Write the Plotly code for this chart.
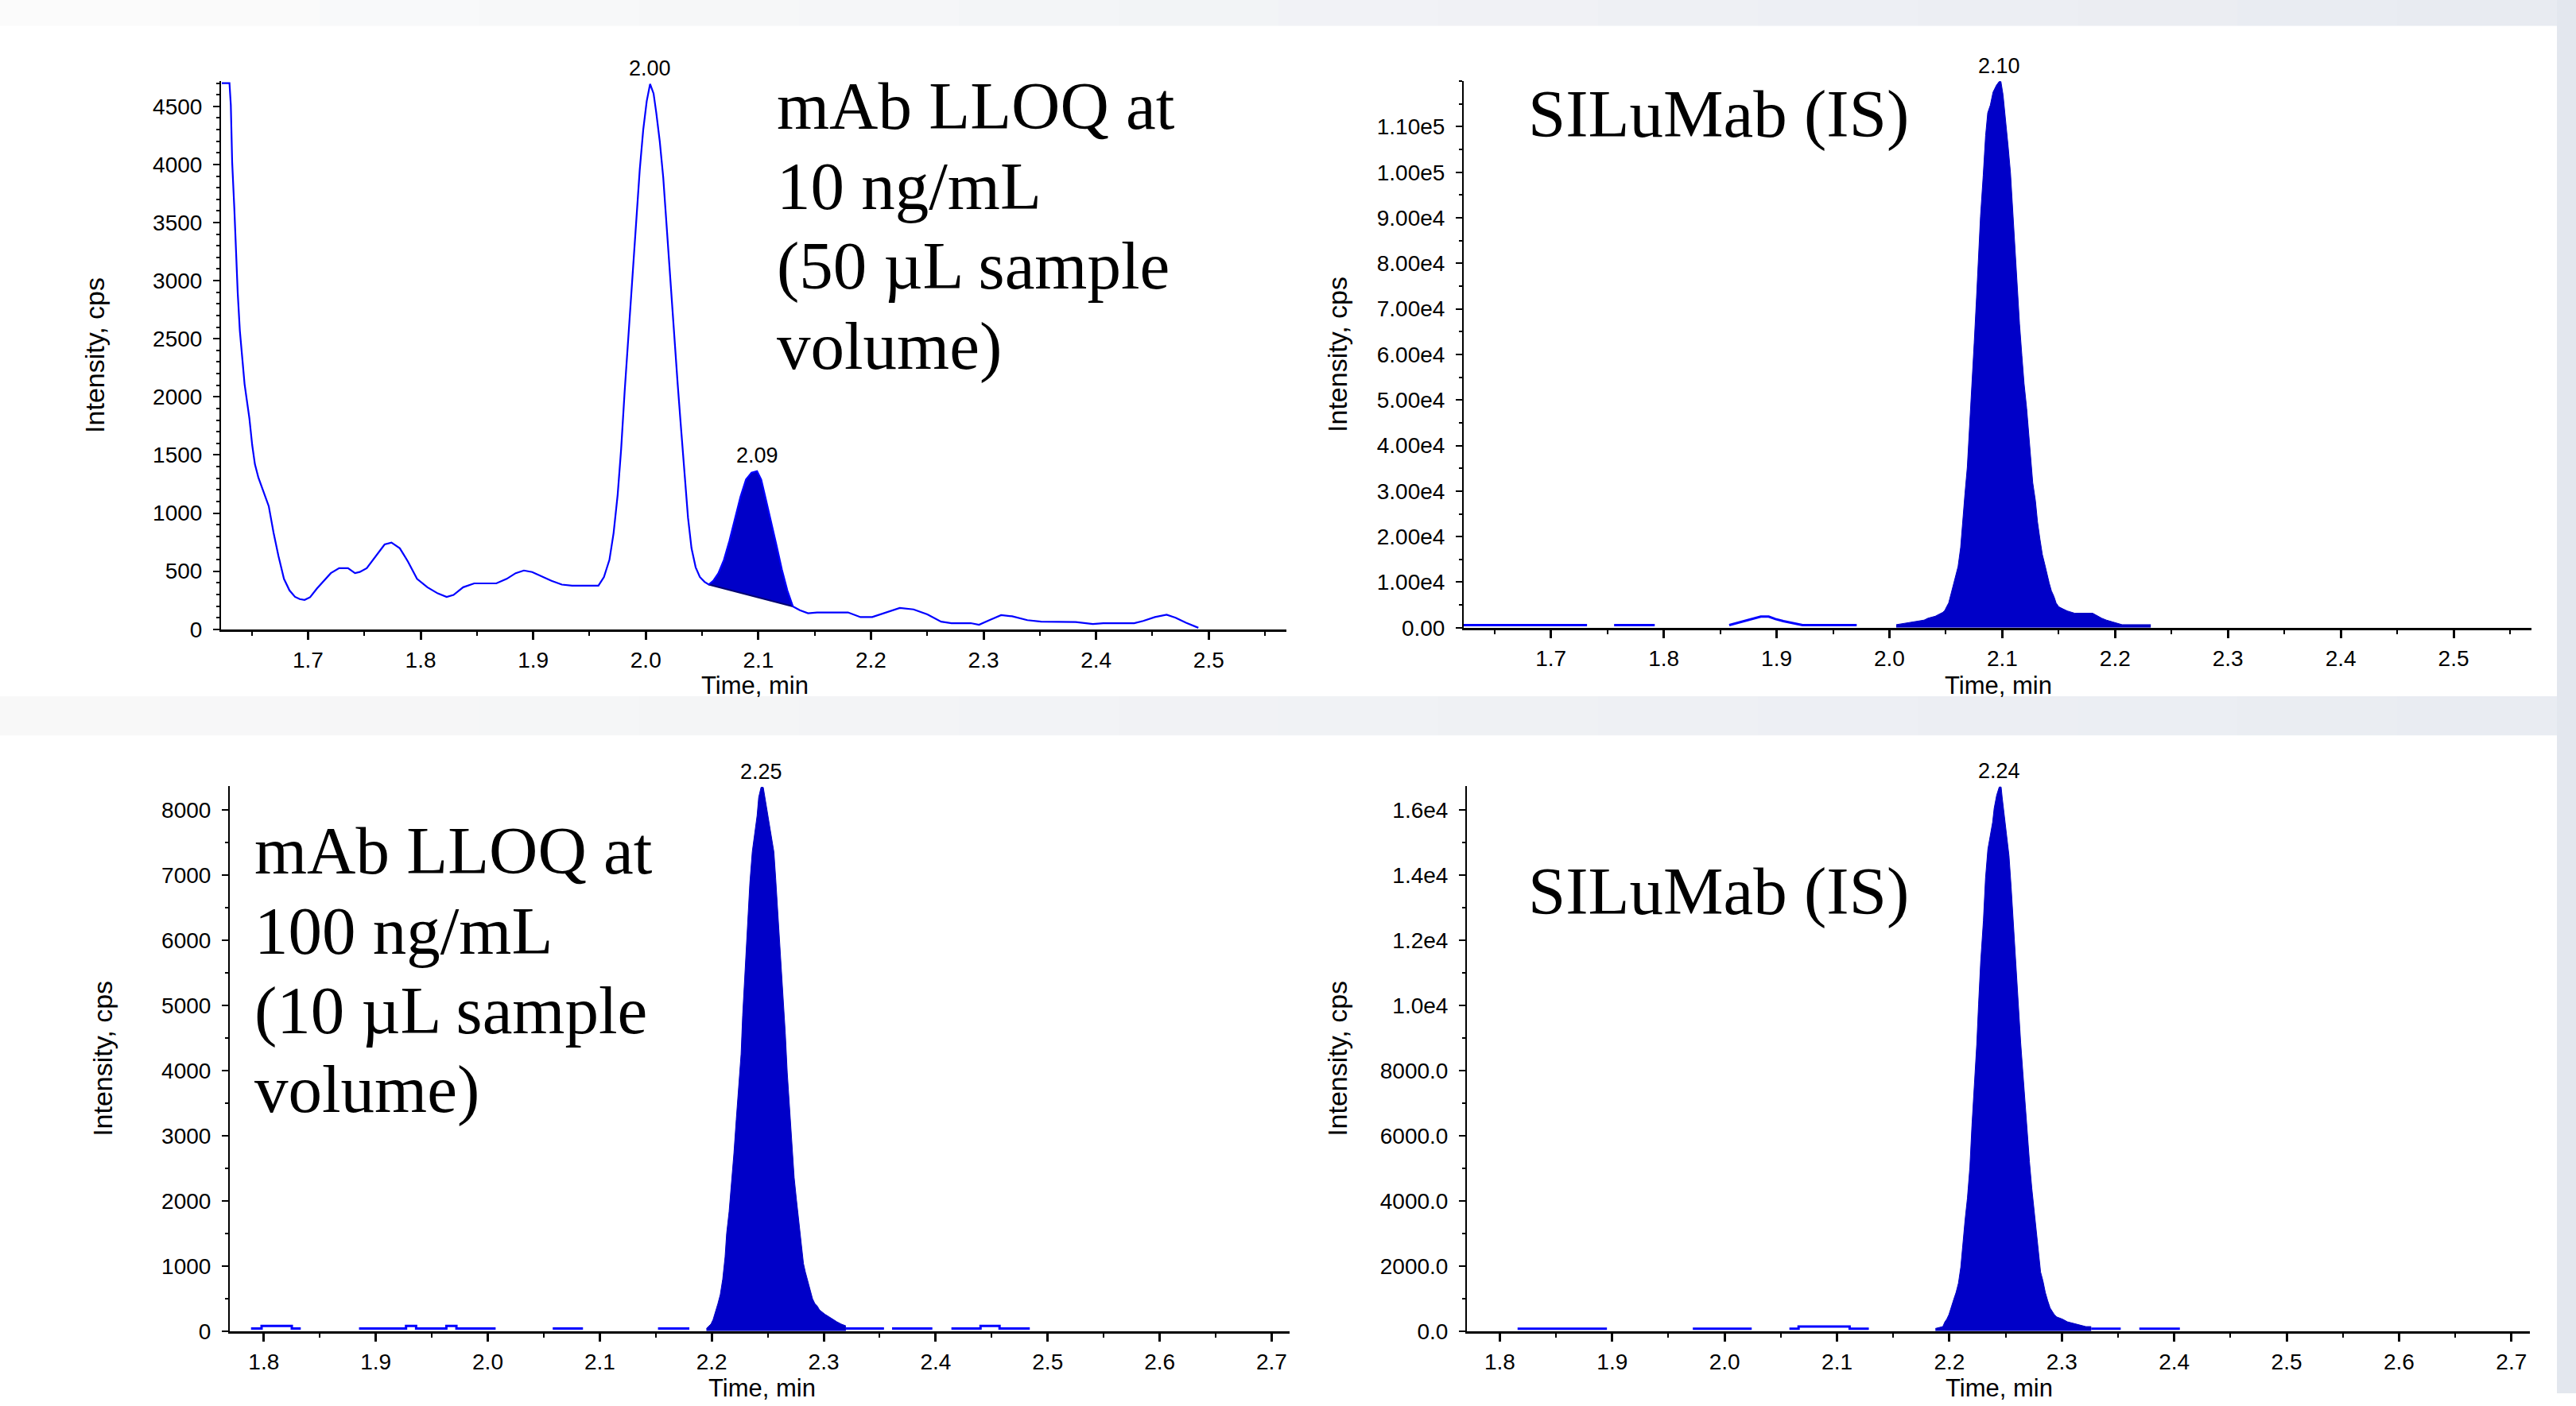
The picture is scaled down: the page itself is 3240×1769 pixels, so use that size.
import numpy as np
import plotly.graph_objects as go

W, H = 3240, 1769

# ---------------- Panel A: mAb LLOQ 10 ng/mL (top-left) ----------------
a_time = [1.6234,1.6302,1.6314,1.6326,1.6345,1.6357,1.6375,1.6394,1.6418,1.6436,
          1.6455,1.6479,1.6504,1.6528,1.6559,1.6602,1.6651,1.6694,1.6737,1.6786,
          1.6835,1.6884,1.6926,1.6969,1.7018,1.7080,1.7153,1.7202,1.7276,1.7355,
          1.7417,1.7459,1.7521,1.7600,1.7680,1.7741,1.7815,1.7888,1.7968,1.8060,
          1.8152,1.8231,1.8292,1.8378,1.8476,1.8672,1.8764,1.8844,1.8917,1.8991,
          1.9089,1.9162,1.9254,1.9346,1.9579,1.9628,1.9677,1.9714,1.9750,1.9781,
          1.9812,1.9848,1.9885,1.9916,1.9946,1.9977,2.0008,2.0038,2.0069,2.0093,
          2.0124,2.0155,2.0185,2.0216,2.0253,2.0283,2.0314,2.0345,2.0375,2.0406,
          2.0443,2.0480,2.0522,2.0559,2.0600,2.0645,2.0694,2.0743,2.0792,2.0841,
          2.0890,2.0939,2.0988,2.1025,2.1061,2.1110,2.1159,2.1208,2.1257,2.1306,
          2.1368,2.1441,2.1521,2.1796,2.1907,2.2011,2.2133,2.2256,2.2378,2.2501,
          2.2623,2.2715,2.2886,2.2960,2.3052,2.3156,2.3254,2.3389,2.3511,2.3818,
          2.3971,2.4063,2.4338,2.4418,2.4522,2.4626,2.4706,2.4798,2.4908]
a_int = [4700,4700,4511,4018,3623,3295,2900,2571,2275,2111,
         1979,1815,1585,1420,1305,1190,1059,829,631,434,
         335,279,260,253,276,352,434,483,526,526,
         483,493,526,631,730,746,697,582,434,362,
         309,279,296,362,395,395,434,483,506,493,
         450,418,385,375,375,450,598,829,1157,1552,
         2045,2571,3097,3525,3952,4297,4544,4692,4610,4445,
         4199,3886,3459,3032,2505,2111,1716,1322,960,697,
         533,450,408,385,418,483,598,763,960,1141,
         1289,1348,1361,1289,1141,944,730,516,335,197,
         164,138,145,145,105,105,145,184,171,128,
         66,53,53,39,79,122,112,79,66,62,
         46,53,53,72,105,125,99,56,13]
a_integ_t = [2.0559, 2.1306]      # integration window (start, end)
a_integ_base = [385, 197]         # integration baseline intensities
a_labels = ["2.00", "2.09"]
a_label_win = [(1.98, 2.03), (2.08, 2.12)]

# ---------------- Panel B: SILuMab IS (top-right) ----------------
b_line_t = [1.6227,1.732,None,1.756,1.792,None,1.858,1.867,1.877,1.886,1.893,1.899,1.906,1.915,1.923,1.971]
b_line_i = [580,580,None,580,580,None,579,1158,1737,2432,2432,1911,1447,1042,579,579]
b_peak_t = [2.0060,2.0225,2.0307,2.0342,2.0406,2.0471,2.0490,2.0507,2.0525,2.0547,
            2.0570,2.0589,2.0608,2.0631,2.0648,2.0669,2.0690,2.0709,2.0730,2.0751,
            2.0772,2.0789,2.0807,2.0831,2.0852,2.0871,2.0894,2.0918,2.0948,2.0972,
            2.0988,2.1007,2.1031,2.1052,2.1073,2.1089,2.1110,2.1129,2.1153,2.1174,
            2.1193,2.1216,2.1235,2.1251,2.1270,2.1294,2.1312,2.1334,2.1355,2.1376,
            2.1395,2.1416,2.1435,2.1458,2.1477,2.1500,2.1533,2.1576,2.1641,2.1801,
            2.1881,2.1923,2.1980,2.2062,2.2316]
b_peak_i = [671,1258,1677,2097,2516,3354,3774,4612,5451,7547,
            9644,11740,13418,17611,23481,29351,35221,43188,53083,62476,
            72539,81512,90317,99290,108011,113043,114720,117572,119081,119900,
            119900,116985,111283,105664,99794,92917,83860,75390,66669,59708,
            53670,48220,42601,36898,31867,27842,23313,19456,16101,14005,
            11740,9812,8134,6877,5451,4612,4193,3690,3187,3187,
            2097,1677,1258,671,671]
b_labels = ["2.10"]
b_label_win = [(2.05, 2.15)]
b_ytickvals = [0, 1e4, 2e4, 3e4, 4e4, 5e4, 6e4, 7e4, 8e4, 9e4, 1e5, 1.1e5]
b_yticktext = ["0.00", "1.00e4", "2.00e4", "3.00e4", "4.00e4", "5.00e4", "6.00e4",
               "7.00e4", "8.00e4", "9.00e4", "1.00e5", "1.10e5"]

# ---------------- Panel C: mAb LLOQ 100 ng/mL (bottom-left) ----------------
c_line_t = [1.7886,1.798,1.798,1.825,1.825,1.833,None,
            1.885,1.927,1.927,1.936,1.936,1.963,1.963,1.972,1.972,2.007,None,
            2.058,2.085,None,2.152,2.180,None,2.3198,2.3538,None,2.361,2.397,None,
            2.414,2.440,2.440,2.457,2.457,2.484]
c_line_i = [40,40,80,80,40,40,None,
            40,40,80,80,40,40,80,80,40,40,None,
            40,40,None,40,40,None,40,40,None,40,40,None,
            40,40,80,80,40,40]
c_peak_t = [2.1952,2.1974,2.1993,2.2012,2.2033,2.2055,2.2076,2.2098,2.2119,2.2133,
            2.2155,2.2176,2.2198,2.2219,2.2240,2.2262,2.2276,2.2298,2.2319,2.2340,
            2.2362,2.2383,2.2405,2.2419,2.2440,2.2460,2.2471,2.2493,2.2514,2.2536,
            2.2555,2.2571,2.2593,2.2614,2.2636,2.2657,2.2674,2.2693,2.2714,2.2736,
            2.2757,2.2779,2.2800,2.2819,2.2836,2.2857,2.2879,2.2900,2.2921,2.2943,
            2.2962,2.2981,2.3012,2.3045,2.3079,2.3117,2.3155,2.3198]
c_peak_i = [40,80,108,177,314,422,559,798,1141,1500,
            1836,2247,2732,3251,3770,4254,4848,5538,6188,6878,
            7363,7636,7916,8195,8350,8350,8229,8024,7785,7562,
            7357,6952,6359,5743,5150,4568,3975,3433,2840,2355,
            2007,1631,1283,1038,907,776,627,496,422,382,
            325,297,257,222,182,143,108,80]
c_labels = ["2.25"]
c_label_win = [(2.2, 2.3)]

# ---------------- Panel D: SILuMab IS (bottom-right) ----------------
d_line_t = [1.8158,1.8953,None,1.9717,2.0241,None,2.0576,2.0658,2.0658,2.1112,2.1112,2.1283,None,
            2.3261,2.3524,None,2.3689,2.405]
d_line_i = [72,72,None,72,72,None,72,72,137,137,72,72,None,
            72,72,None,72,72]
d_peak_t = [2.1875,2.1941,2.1960,2.1976,2.1995,2.2017,2.2040,2.2059,2.2080,2.2101,
            2.2118,2.2139,2.2160,2.2182,2.2200,2.2222,2.2243,2.2259,2.2278,2.2302,
            2.2321,2.2342,2.2363,2.2384,2.2398,2.2420,2.2443,2.2460,2.2469,2.2490,
            2.2512,2.2530,2.2549,2.2570,2.2592,2.2613,2.2634,2.2653,2.2672,2.2691,
            2.2712,2.2733,2.2754,2.2776,2.2794,2.2811,2.2832,2.2853,2.2875,2.2896,
            2.2915,2.2934,2.2955,2.3007,2.3049,2.3132,2.3214,2.3261]
d_peak_i = [80,137,285,365,502,764,992,1186,1471,1962,
            2635,3410,4083,5041,6296,7539,8793,10025,11337,12591,
            13903,14792,15203,15613,16047,16446,16700,16700,16389,15762,
            15203,14587,13629,12374,11131,9888,8850,7949,6980,6090,
            5201,4380,3684,2999,2304,1813,1540,1186,924,707,
            604,502,433,365,285,217,137,137]
d_labels = ["2.24"]
d_label_win = [(2.2, 2.3)]
d_ytickvals = [0, 2000, 4000, 6000, 8000, 10000, 12000, 14000, 16000]
d_yticktext = ["0.0", "2000.0", "4000.0", "6000.0", "8000.0", "1.0e4", "1.2e4", "1.4e4", "1.6e4"]

# panel texts
a_text = ["mAb LLOQ at", "10 ng/mL", "(50 \u00b5L sample", "volume)"]
b_text = ["SILuMab (IS)"]
c_text = ["mAb LLOQ at", "100 ng/mL", "(10 \u00b5L sample", "volume)"]
d_text = ["SILuMab (IS)"]
x_title = "Time, min"
y_title = "Intensity, cps"

# ---------------- styling / geometry (pixels) ----------------
BLUE_LINE = "#0000FF"
BLUE_FILL = "#0000C8"
SANS = "Liberation Sans, Arial, sans-serif"
SERIF = "Liberation Serif, Times New Roman, serif"
TICKFONT = dict(family=SANS, size=28, color="black")


def fx(p):
    return p / W


def fy(p):
    return 1 - p / H


panels = {
    # name: (x0px, x1px, ytop_px, ybot_px, xrange, yrange)
    "a": (278, 1618, 103, 799, [1.6227, 2.569], [0, 4717]),
    "b": (1841, 3184, 103, 797, [1.6227, 2.569], [0, 120000]),
    "c": (289, 1622, 998, 1690, [1.7696, 2.716], [0, 8370]),
    "d": (1845, 3182, 998, 1690, [1.7707, 2.7164], [0, 16730]),
}
axis_ids = {"a": ("x", "y", ""), "b": ("x2", "y2", "2"), "c": ("x3", "y3", "3"), "d": ("x4", "y4", "4")}

fig = go.Figure()

# Panel A: integrated peak fill + baseline + curve
at = np.array(a_time)
ai = np.array(a_int)
m = (at >= a_integ_t[0]) & (at <= a_integ_t[1])
fig.add_trace(go.Scatter(x=list(at[m]) + [a_integ_t[1], a_integ_t[0]],
                         y=list(ai[m]) + [a_integ_base[1], a_integ_base[0]],
                         fill="toself", fillcolor=BLUE_FILL, mode="lines",
                         line=dict(width=0, color=BLUE_FILL), xaxis="x", yaxis="y"))
fig.add_trace(go.Scatter(x=a_integ_t, y=a_integ_base, mode="lines",
                         line=dict(color="#000070", width=2), xaxis="x", yaxis="y"))
fig.add_trace(go.Scatter(x=a_time, y=a_int, mode="lines",
                         line=dict(color=BLUE_LINE, width=2.2), xaxis="x", yaxis="y"))

# Panels B-D: filled peak + noise line
for name, lt, li, pt, pi in [("b", b_line_t, b_line_i, b_peak_t, b_peak_i),
                             ("c", c_line_t, c_line_i, c_peak_t, c_peak_i),
                             ("d", d_line_t, d_line_i, d_peak_t, d_peak_i)]:
    xa, ya, _ = axis_ids[name]
    fig.add_trace(go.Scatter(x=pt, y=pi, mode="lines", fill="tozeroy", fillcolor=BLUE_FILL,
                             line=dict(color=BLUE_FILL, width=1), xaxis=xa, yaxis=ya))
    fig.add_trace(go.Scatter(x=lt, y=li, mode="lines", connectgaps=False,
                             line=dict(color=BLUE_LINE, width=3), xaxis=xa, yaxis=ya))

layout = {}
for name, (x0, x1, yt, yb, xr, yr) in panels.items():
    xa, ya, suf = axis_ids[name]
    layout["xaxis" + suf] = dict(
        domain=[fx(x0), fx(x1)], range=xr, anchor=ya, showline=True, linecolor="black",
        linewidth=3, ticks="outside", ticklen=10, tickwidth=3, tickcolor="black",
        tickmode="linear", tick0=0, dtick=0.1, tickformat=".1f", tickfont=TICKFONT,
        ticklabelstandoff=2, showgrid=False, zeroline=False, fixedrange=True,
        minor=dict(ticks="outside", ticklen=5, tickwidth=2, tickcolor="black",
                   tickmode="linear", tick0=0, dtick=0.05, showgrid=False))
    ydict = dict(
        domain=[fy(yb), fy(yt)], range=yr, anchor=xa, showline=True, linecolor="black",
        linewidth=2, ticks="outside", ticklen=8, tickwidth=2, tickcolor="black",
        tickfont=TICKFONT, ticklabelstandoff=8, showgrid=False, zeroline=False, fixedrange=True)
    minor_y = dict(ticks="outside", ticklen=4, tickwidth=2, tickcolor="black",
                   tickmode="linear", tick0=0, showgrid=False)
    if name == "a":
        ydict.update(tickmode="linear", tick0=0, dtick=500, minor=dict(minor_y, dtick=100))
    elif name == "b":
        ydict.update(tickmode="array", tickvals=b_ytickvals, ticktext=b_yticktext,
                     minor=dict(minor_y, dtick=5000))
    elif name == "c":
        ydict.update(tickmode="linear", tick0=0, dtick=1000, minor=dict(minor_y, dtick=500))
    else:
        ydict.update(tickmode="array", tickvals=d_ytickvals, ticktext=d_yticktext,
                     minor=dict(minor_y, dtick=1000))
    layout["yaxis" + suf] = ydict

annotations = []
# peak labels at apex of each labelled peak
for name, ts, is_, labels, wins in [("a", a_time, a_int, a_labels, a_label_win),
                                     ("b", b_peak_t, b_peak_i, b_labels, b_label_win),
                                     ("c", c_peak_t, c_peak_i, c_labels, c_label_win),
                                     ("d", d_peak_t, d_peak_i, d_labels, d_label_win)]:
    xa, ya, _ = axis_ids[name]
    tt = np.array(ts, dtype=float)
    ii = np.array(is_, dtype=float)
    for lbl, (w0, w1) in zip(labels, wins):
        mm = (tt >= w0) & (tt <= w1)
        k = int(np.argmax(np.where(mm, ii, -1)))
        annotations.append(dict(x=float(tt[k]), y=float(ii[k]), xref=xa, yref=ya, text=lbl,
                                showarrow=False, yanchor="middle", xanchor="center", yshift=20,
                                font=dict(family=SANS, size=27, color="black")))

# big panel texts (each line separately, baseline positions in px)
SERIF_SIZE = 85
for lines, left_px, baselines in [(a_text, 975, [163, 265, 366, 468]),
                                  (b_text, 1920, [174]),
                                  (c_text, 318, [1108, 1210, 1312, 1412]),
                                  (d_text, 1920, [1160])]:
    for txt, bl in zip(lines, baselines):
        annotations.append(dict(x=fx(left_px), y=fy(bl - 0.3375 * SERIF_SIZE), xref="paper", yref="paper",
                                text=txt, showarrow=False, xanchor="left", yanchor="middle",
                                font=dict(family=SERIF, size=SERIF_SIZE, color="black")))

# axis titles
for cx, cy in [(119, 451), (1682, 450), (129, 1344), (1682, 1344)]:
    annotations.append(dict(x=fx(cx), y=fy(cy), xref="paper", yref="paper", text=y_title,
                            showarrow=False, textangle=-90, xanchor="center", yanchor="middle",
                            font=dict(family=SANS, size=34, color="black")))
for cx, cy in [(949, 870), (2513, 870), (958, 1762), (2514, 1762)]:
    annotations.append(dict(x=fx(cx), y=fy(cy), xref="paper", yref="paper", text=x_title,
                            showarrow=False, xanchor="center", yanchor="middle",
                            font=dict(family=SANS, size=31, color="black")))


# slide background: white chart panels over a light, left-to-right graded band
def blend(c0, c1, f):
    a = [int(c0[i:i + 2], 16) for i in (1, 3, 5)]
    b = [int(c1[i:i + 2], 16) for i in (1, 3, 5)]
    return "#%02x%02x%02x" % tuple(round(a[j] + (b[j] - a[j]) * f) for j in range(3))


shapes = []
bg_rects = []
NSTEP = 16
for band_y0, band_y1, c_left, c_right in [(0, 33, "#fbfbfb", "#e8ebf1"), (884, 934, "#f8f8f8", "#e9ecf2")]:
    for s in range(NSTEP):
        xs0 = 3216 * s / NSTEP
        xs1 = 3216 * (s + 1) / NSTEP
        bg_rects.append((xs0, band_y0, xs1, band_y1, blend(c_left, c_right, s / (NSTEP - 1))))
bg_rects += [(0, 33, 3216, 884, "#ffffff"),
             (0, 934, 3216, 1769, "#ffffff"),
             (3216, 0, 3240, 1769, "#e3e7ee")]
for (x0, y0, x1, y1, col) in bg_rects:
    shapes.append(dict(type="rect", xref="paper", yref="paper", x0=fx(x0), x1=fx(x1),
                       y0=fy(y1), y1=fy(y0), fillcolor=col, line=dict(width=0), layer="below"))

fig.update_layout(
    width=W, height=H, autosize=False,
    margin=dict(l=0, r=0, t=0, b=0, pad=0),
    paper_bgcolor="#ffffff", plot_bgcolor="#ffffff",
    showlegend=False, hovermode=False,
    annotations=annotations, shapes=shapes,
    **layout,
)

fig.write_html("out.html", config={"displayModeBar": False},
               post_script="document.body.style.margin='0px';")
